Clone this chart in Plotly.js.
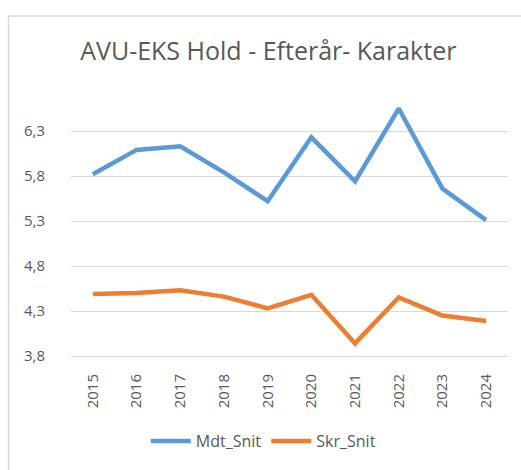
<!DOCTYPE html>
<html>
<head>
<meta charset="utf-8">
<script src="https://cdn.plot.ly/plotly-3.0.1.min.js"></script>
<style>html,body{margin:0;padding:0;background:#fff;}#chart{width:521px;height:470px;}</style>
</head>
<body>
<div id="chart"></div>
<script>
const years = ['2015','2016','2017','2018','2019','2020','2021','2022','2023','2024'];
const mdtSnit = [5.82, 6.09, 6.13, 5.84, 5.52, 6.23, 5.74, 6.55, 5.66, 5.31];
const skrSnit = [4.49, 4.50, 4.53, 4.46, 4.33, 4.48, 3.94, 4.45, 4.25, 4.19];
const yTicks = [3.8, 4.3, 4.8, 5.3, 5.8, 6.3];

const traces = [
  {x: years, y: mdtSnit, name: 'Mdt_Snit', type: 'scatter', mode: 'lines',
   line: {color: '#5B9BD5', width: 4.5}, cliponaxis: false},
  {x: years, y: skrSnit, name: 'Skr_Snit', type: 'scatter', mode: 'lines',
   line: {color: '#ED7D31', width: 4.5}, cliponaxis: false}
];
const layout = {
  width: 521, height: 470,
  margin: {l: 71, r: 13, t: 86, b: 108},
  separators: ',.',
  paper_bgcolor: '#ffffff', plot_bgcolor: '#ffffff',
  font: {family: 'Open Sans, sans-serif', color: '#595959', size: 13},
  title: {text: 'AVU-EKS Hold - Efterår- Karakter', x: 0.515, xanchor: 'center',
          y: 0.89, yanchor: 'middle', yref: 'container',
          font: {size: 25, color: '#595959', family: 'Open Sans, sans-serif'}},
  xaxis: {type: 'category', range: [-0.5, 9.5], tickangle: -90, showgrid: false, zeroline: false,
          showline: true, linecolor: '#d9d9d9', linewidth: 1,
          ticks: 'outside', ticklen: 11, tickcolor: 'rgba(0,0,0,0)',
          tickfont: {size: 15, color: '#595959'}, fixedrange: true},
  yaxis: {range: [3.8, 6.8], tickvals: yTicks, tickformat: '.1f', showgrid: true,
          gridcolor: '#d9d9d9', gridwidth: 1, zeroline: false, showline: false,
          ticks: 'outside', ticklen: 22, tickcolor: 'rgba(0,0,0,0)',
          tickfont: {size: 15, color: '#595959'}, fixedrange: true},
  showlegend: true,
  legend: {orientation: 'h', x: 0.44, xanchor: 'center', y: -0.315, yanchor: 'middle',
           font: {size: 16, color: '#595959'}, itemwidth: 40},
  shapes: [{type: 'rect', xref: 'paper', yref: 'paper', x0: -0.143, x1: 1.1, y0: -0.45, y1: 1.259,
            line: {color: '#d9d9d9', width: 1.5}, fillcolor: 'rgba(0,0,0,0)', layer: 'below'}]
};
Plotly.newPlot('chart', traces, layout, {staticPlot: true, displayModeBar: false});
</script>
</body>
</html>
